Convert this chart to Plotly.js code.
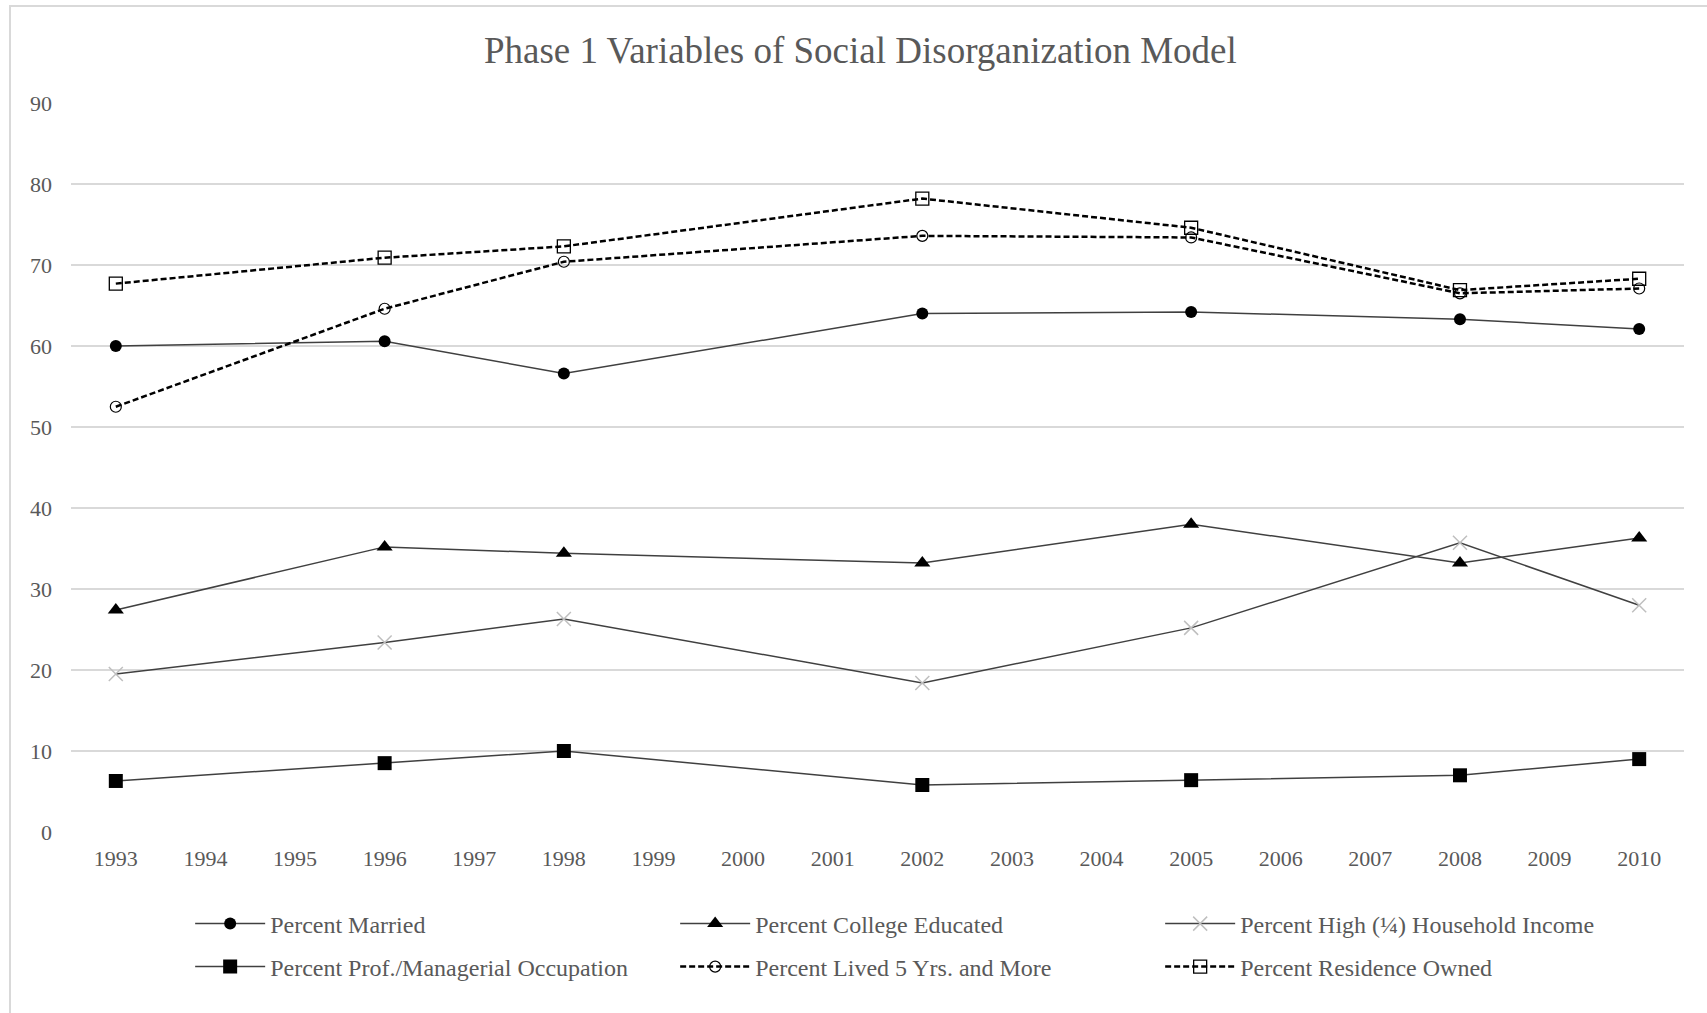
<!DOCTYPE html>
<html>
<head>
<meta charset="utf-8">
<script src="https://cdn.plot.ly/plotly-3.0.1.min.js"></script>
<style>
  html, body { margin: 0; padding: 0; background: #ffffff; }
  #wrap { position: relative; width: 1707px; height: 1013px; overflow: hidden; }
  #frame { position: absolute; left: 9px; top: 5px; width: 1720px; height: 1030px; border-left: 2px solid #d9d9d9; border-top: 2px solid #d9d9d9; pointer-events: none; z-index: 5; }
  #chart { position: absolute; left: 0; top: 0; width: 1707px; height: 1013px; }
</style>
</head>
<body>
<div id="wrap">
  <div id="chart"></div>
  <div id="frame"></div>
</div>
<script>
// ---- data ----
const allYears = ["1993","1994","1995","1996","1997","1998","1999","2000","2001","2002","2003","2004","2005","2006","2007","2008","2009","2010"];
const surveyYears = ["1993","1996","1998","2002","2005","2008","2010"];

const percentMarried      = [60.0, 60.6, 56.6, 64.0, 64.2, 63.3, 62.1];
const percentCollege      = [27.4, 35.2, 34.4, 33.2, 38.0, 33.2, 36.3];
const percentHighIncome   = [19.5, 23.4, 26.3, 18.4, 25.2, 35.7, 28.0];
const percentProfManager  = [6.3, 8.5, 10.0, 5.8, 6.4, 7.0, 9.0];
const percentLived5Yrs    = [52.5, 64.6, 70.4, 73.6, 73.4, 66.5, 67.1];
const percentResidence    = [67.7, 70.9, 72.3, 78.2, 74.6, 66.9, 68.3];

const seriesNames = [
  "Percent Married",
  "Percent College Educated",
  "Percent High (\u00BC) Household Income",
  "Percent Prof./Managerial Occupation",
  "Percent Lived 5 Yrs. and More",
  "Percent Residence Owned"
];
const yTicks = [0,10,20,30,40,50,60,70,80,90];

// ---- styling ----
const FONT = "'Liberation Serif', 'Times New Roman', serif";
const solidLine = {color: "#404040", width: 1.5};
const dashLine = {color: "#000000", width: 2.5, dash: "6px,3px"};

const traces = [
  {x: surveyYears, y: percentMarried, name: seriesNames[0], legend: "legend",
   mode: "lines+markers", line: solidLine,
   marker: {symbol: "circle", size: 12, color: "#000000"}},
  {x: surveyYears, y: percentCollege, name: seriesNames[1], legend: "legend",
   mode: "lines+markers", line: solidLine,
   marker: {symbol: "triangle-up", size: 14, color: "#000000"}},
  {x: surveyYears, y: percentHighIncome, name: seriesNames[2], legend: "legend",
   mode: "lines+markers", line: solidLine,
   marker: {symbol: "x-thin-open", size: 14, color: "#bfbfbf", line: {color: "#bfbfbf", width: 1.5}}},
  {x: surveyYears, y: percentProfManager, name: seriesNames[3], legend: "legend2",
   mode: "lines+markers", line: solidLine,
   marker: {symbol: "square", size: 14, color: "#000000"}},
  {x: surveyYears, y: percentLived5Yrs, name: seriesNames[4], legend: "legend2",
   mode: "lines+markers", line: dashLine,
   marker: {symbol: "circle-open", size: 11, color: "#000000", line: {width: 1.2}}},
  {x: surveyYears, y: percentResidence, name: seriesNames[5], legend: "legend2",
   mode: "lines+markers", line: dashLine,
   marker: {symbol: "square-open", size: 13, color: "#000000", line: {width: 1.3}}}
];

const legendCommon = {
  orientation: "h",
  xref: "container", yref: "container",
  xanchor: "left", yanchor: "middle",
  x: 0.1114,
  font: {family: FONT, size: 24, color: "#595959"},
  bgcolor: "rgba(0,0,0,0)",
  itemwidth: 70,
  entrywidth: 400,
  entrywidthmode: "pixels",
  traceorder: "normal",
  itemclick: false, itemdoubleclick: false
};

const layout = {
  width: 1707, height: 1013,
  paper_bgcolor: "#ffffff", plot_bgcolor: "#ffffff",
  margin: {l: 71, r: 23, t: 102.5, b: 181.3, pad: 0},
  title: {
    text: "Phase 1 Variables of Social Disorganization Model",
    font: {family: FONT, size: 37, color: "#595959"},
    xref: "container", yref: "container",
    x: 0.504, xanchor: "center",
    y: 0.951, yanchor: "middle"
  },
  xaxis: {
    type: "category",
    categoryorder: "array", categoryarray: allYears,
    tickvals: allYears, ticktext: allYears,
    range: [-0.5, allYears.length - 0.5],
    showgrid: false, zeroline: false, showline: false,
    ticks: "", ticklabelstandoff: 11,
    tickfont: {family: FONT, size: 22, color: "#595959"},
    fixedrange: true
  },
  yaxis: {
    range: [0, 90],
    tickvals: yTicks,
    showgrid: true, gridcolor: "#d9d9d9", gridwidth: 1.5,
    zeroline: false, showline: false,
    ticks: "", ticklabelstandoff: 18,
    tickfont: {family: FONT, size: 22, color: "#595959"},
    fixedrange: true
  },
  showlegend: true,
  legend: Object.assign({}, legendCommon, {y: 1 - 924/1013}),
  legend2: Object.assign({}, legendCommon, {y: 1 - 967/1013})
};

Plotly.newPlot("chart", traces, layout, {displayModeBar: false, staticPlot: true});
</script>
</body>
</html>
